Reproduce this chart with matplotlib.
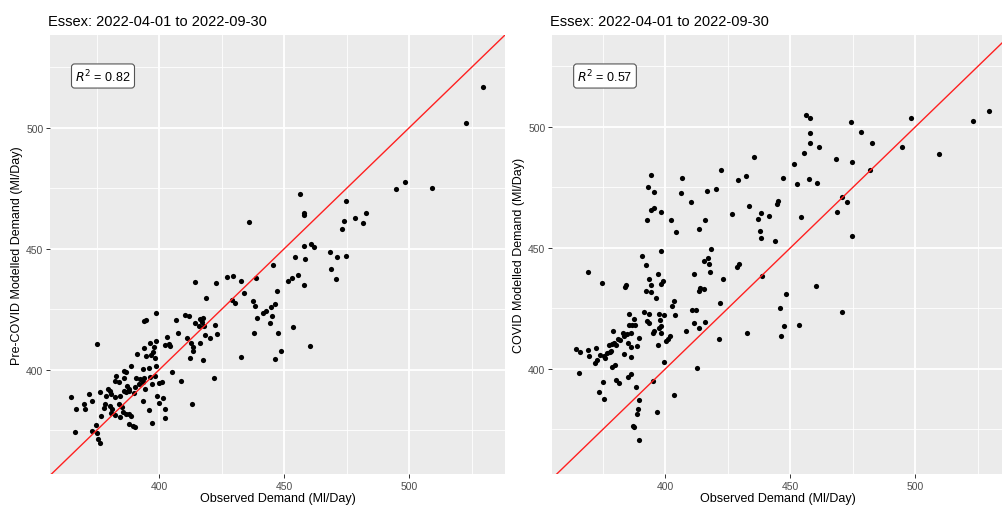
import matplotlib
matplotlib.use("Agg")
import matplotlib.pyplot as plt
from matplotlib.ticker import FixedLocator

plt.rcParams['font.family'] = ['Liberation Sans', 'DejaVu Sans']

title_text = "Essex: 2022-04-01 to 2022-09-30"
x_label = "Observed Demand (Ml/Day)"
y_label_pre = "Pre-COVID Modelled Demand (Ml/Day)"
y_label_covid = "COVID Modelled Demand (Ml/Day)"
r2_pre = "0.82"
r2_covid = "0.57"
major_ticks = [400, 450, 500]
minor_ticks = [375, 425, 475, 525]

# Pre-COVID model: observed vs modelled daily demand
obs_pre = [
    529.4, 522.7, 509.3, 498.3, 494.8, 456.3, 458.0, 457.8, 474.9, 474.1,
    478.2, 482.7, 481.7, 473.0, 458.1, 460.8, 461.9, 468.3,
    471.0, 474.6, 454.5, 458.3, 468.7, 470.6, 455.7, 453.0, 451.7, 457.8,
    447.2, 446.5, 453.6, 447.6, 448.7, 446.5, 460.3,
    436.0, 445.4, 438.8, 427.1, 429.4, 432.7, 422.6, 414.2, 434.0, 418.7,
    429.0, 430.3, 437.4, 438.5, 444.6, 441.4, 442.9, 445.1, 439.3, 444.4,
    398.9, 393.8, 394.8, 406.9, 410.4, 411.8, 414.2, 416.5, 417.6, 417.1,
    415.8, 417.9, 422.2,
    375.3, 396.2, 398.8, 402.4, 394.0, 398.0, 397.4, 394.7, 396.7, 398.4,
    391.3, 388.9, 385.8, 386.9, 393.5, 395.8, 398.8, 382.8, 382.3, 383.9,
    386.1, 390.9, 392.5, 394.0, 396.2, 398.3, 400.1, 401.1, 379.5, 380.2,
    387.2, 388.1, 390.5, 391.8, 393.5, 394.4, 397.1, 364.9, 372.0, 376.2,
    373.0, 378.6, 380.6, 382.3, 384.3, 386.0, 386.9, 388.1, 389.8, 393.4,
    399.1, 401.5, 400.0, 402.4, 370.0, 370.2, 366.9, 378.3, 377.9, 380.3,
    381.2, 383.9, 385.2, 385.6, 384.5, 386.9, 388.1, 388.9, 395.8, 402.4,
    376.9, 380.6, 382.3, 387.8, 389.6, 390.2, 397.1, 366.3, 374.6, 373.3,
    375.3, 375.7, 376.2,
    407.4, 403.3, 404.0, 404.4, 411.2, 412.7, 413.6, 413.6, 416.3, 418.3,
    420.5, 423.3, 438.1, 432.8, 412.3, 417.7, 405.0, 408.6, 421.8, 413.1,
]
pred_pre = [
    516.9, 502.0, 475.2, 477.6, 474.7, 472.7, 464.8, 463.9, 470.0, 461.4,
    462.7, 465.0, 460.9, 458.1, 451.1, 452.1, 450.8, 448.6,
    446.8, 447.1, 446.8, 445.9, 441.7, 437.6, 439.4, 438.0, 436.7, 435.1,
    432.8, 427.4, 417.9, 415.1, 408.0, 404.7, 409.8,
    461.0, 443.3, 438.1, 438.4, 439.0, 436.6, 436.1, 436.5, 431.7, 429.8,
    428.8, 427.7, 428.4, 426.4, 426.0, 423.7, 424.4, 422.2, 421.4, 419.4,
    423.6, 420.1, 420.5, 420.5, 422.9, 422.4, 419.3, 421.1, 421.6, 419.7,
    418.2, 418.3, 418.7,
    410.7, 411.2, 411.8, 410.5, 409.1, 409.4, 407.3, 405.9, 406.2, 405.0,
    406.5, 401.8, 399.7, 399.3, 400.4, 400.7, 401.8, 397.4, 395.6, 394.9,
    396.6, 396.6, 396.3, 396.6, 397.0, 397.7, 394.6, 395.2, 392.1, 391.2,
    393.3, 392.1, 392.8, 394.2, 394.9, 392.1, 394.2, 388.8, 390.2, 390.8,
    387.3, 389.4, 390.1, 388.7, 389.4, 391.5, 390.8, 391.2, 390.4, 387.3,
    389.4, 388.4, 386.4, 383.9, 386.0, 383.9, 383.9, 386.0, 384.3, 385.3,
    383.9, 386.0, 384.6, 382.8, 380.4, 381.8, 381.8, 381.1, 383.6, 380.0,
    380.9, 382.2, 381.4, 377.7, 377.0, 376.3, 378.1, 374.2, 377.3, 374.9,
    374.0, 371.5, 369.7,
    415.3, 413.5, 410.7, 409.8, 413.1, 411.0, 409.4, 408.0, 411.0, 414.6,
    413.2, 414.9, 415.3, 405.2, 404.8, 403.9, 399.3, 395.3, 396.6, 385.8,
]

# COVID model: observed vs modelled daily demand
obs_covid = [
    435.7, 422.4, 432.4, 429.1, 394.3, 406.9, 393.2, 395.7, 406.5, 416.9,
    420.1, 410.1, 433.7, 394.3, 395.3, 398.4, 392.8, 402.1, 404.5, 413.7,
    415.9, 426.8, 438.1, 437.2, 441.3, 437.9, 438.4, 444.0, 398.5, 390.7,
    392.4, 418.3, 415.7, 417.2, 417.3, 429.7, 428.8,
    529.6, 523.1, 498.3, 509.4, 494.9, 456.1, 457.9, 474.3, 478.3, 482.7,
    457.9, 457.9, 461.6, 455.5, 451.6, 468.1, 474.9, 482.0, 447.1, 452.9,
    457.5, 460.8, 470.9, 472.9, 468.6, 445.2, 444.9, 454.3, 474.6,
    369.2, 374.5, 384.0, 384.3, 393.3, 394.3, 397.1, 398.3, 399.1, 392.4,
    394.1, 396.3, 403.5, 402.8, 411.5, 417.9, 423.1, 413.3, 414.0, 415.7,
    438.8, 421.9, 410.9, 412.4, 391.6, 393.7, 397.3, 399.6, 403.9, 385.6,
    387.7, 385.7, 386.9, 388.0, 392.9, 393.3, 397.9, 398.1, 411.7, 413.5,
    415.9, 408.3, 379.2, 383.1, 383.7, 384.7, 386.3, 395.2, 395.6, 397.7,
    398.3, 389.7, 402.0, 401.1, 400.3, 381.1, 382.0, 379.7, 380.3, 378.7,
    385.1, 386.3, 388.9, 397.2, 421.3, 432.7, 364.4, 366.0, 369.2, 372.3,
    377.5, 378.0, 376.7, 378.4, 374.0, 375.6, 376.0, 369.3, 372.0, 372.8,
    383.3, 386.3, 380.0, 378.9, 399.3, 365.5, 385.1, 386.3, 380.4, 381.3,
    375.1, 412.7, 395.1, 388.3, 373.7, 375.6, 403.3, 389.6, 389.0, 388.7,
    396.8, 387.1, 387.6, 389.7,
    460.3, 448.5, 446.0, 470.6, 447.5, 453.4, 446.3,
]
pred_covid = [
    487.5, 482.4, 479.9, 478.0, 480.2, 478.9, 475.1, 473.0, 472.6, 473.4,
    474.5, 468.9, 467.2, 465.6, 466.4, 464.7, 461.4, 461.4, 456.7, 458.0,
    461.4, 464.2, 464.6, 461.8, 463.4, 457.2, 454.1, 453.0, 448.9, 446.8,
    443.1, 449.7, 444.8, 445.9, 443.4, 443.4, 442.0,
    506.6, 502.5, 503.6, 489.0, 491.6, 504.8, 503.7, 502.1, 497.8, 493.4,
    497.5, 493.5, 491.7, 489.1, 484.7, 486.6, 485.5, 482.2, 478.8, 476.3,
    478.4, 476.9, 471.2, 469.1, 464.9, 469.6, 468.2, 462.7, 455.0,
    440.2, 435.7, 434.0, 434.6, 437.3, 434.8, 439.1, 435.1, 436.5, 432.1,
    432.0, 429.5, 428.2, 425.9, 439.1, 440.1, 437.2, 432.4, 433.5, 432.9,
    438.3, 427.1, 424.5, 424.4, 423.7, 422.7, 422.7, 422.5, 422.2, 422.7,
    420.7, 418.3, 418.3, 418.3, 420.0, 419.0, 420.2, 417.9, 418.9, 416.8,
    419.3, 415.7, 415.7, 414.7, 413.8, 414.5, 414.7, 414.9, 415.6, 416.9,
    414.7, 412.8, 413.5, 412.3, 411.4, 412.5, 412.0, 410.9, 409.8, 410.3,
    410.9, 409.2, 409.6, 409.8, 412.5, 414.9, 408.3, 407.2, 408.0, 408.8,
    410.1, 406.9, 406.5, 407.3, 405.9, 405.5, 404.5, 405.2, 402.6, 403.7,
    406.1, 405.0, 401.7, 400.7, 403.0, 398.3, 396.6, 397.8, 395.5, 394.2,
    394.5, 400.4, 394.9, 392.7, 390.4, 387.6, 389.4, 387.2, 383.5, 381.4,
    382.4, 376.6, 376.2, 370.8,
    434.4, 431.1, 425.3, 423.6, 417.6, 418.0, 413.6,
]

W, H = 1003, 506
fig = plt.figure(figsize=(W / 100, H / 100), dpi=100)

panel_bg = "#EBEBEB"


def frac(x0, y0, x1, y1):
    return [x0 / W, 1 - y1 / H, (x1 - x0) / W, (y1 - y0) / H]


def draw_panel(rect, xs, ys, xlim, ylim, ylabel, r2, box_center):
    ax = fig.add_axes(rect)
    ax.set_facecolor(panel_bg)
    for s in ax.spines.values():
        s.set_visible(False)
    ax.set_xlim(*xlim)
    ax.set_ylim(*ylim)
    ax.xaxis.set_major_locator(FixedLocator(major_ticks))
    ax.yaxis.set_major_locator(FixedLocator(major_ticks))
    ax.xaxis.set_minor_locator(FixedLocator(minor_ticks))
    ax.yaxis.set_minor_locator(FixedLocator(minor_ticks))
    ax.grid(which="major", color="white", linewidth=1.3)
    ax.grid(which="minor", color="white", linewidth=0.6)
    ax.set_axisbelow(True)
    ax.tick_params(which="major", length=2.8, width=0.7, color="#333333",
                   labelsize=7.5, labelcolor="#4D4D4D", pad=2)
    ax.tick_params(which="minor", length=0)
    ax.scatter(xs, ys, s=14, color="black", linewidths=0, zorder=2)
    ax.axline((400, 400), slope=1, color="#FF2020", linewidth=1.0, zorder=3)
    ax.set_xlabel(x_label, fontsize=9, color="black", labelpad=1)
    ax.set_ylabel(ylabel, fontsize=9, color="black", labelpad=2)
    ax.set_title(title_text, fontsize=10.5, loc="left", pad=7, x=-0.005)
    bx, by = box_center
    ax.text(bx, by, r"$R^2$ = " + r2, transform=fig.transFigure,
            ha="center", va="center", fontsize=9,
            bbox=dict(boxstyle="round,pad=0.3,rounding_size=0.25",
                      facecolor="white", edgecolor="#555555", linewidth=0.8),
            zorder=5)
    return ax


draw_panel(frac(50, 36, 505, 475), obs_pre, pred_pre,
           (356.4, 538.4), (357.0, 538.4), y_label_pre, r2_pre,
           (103 / W, 1 - 77 / H))
draw_panel(frac(552, 36, 1003, 475), obs_covid, pred_covid,
           (354.7, 535.1), (356.6, 538.0), y_label_covid, r2_covid,
           (605 / W, 1 - 77 / H))

fig.savefig("out.png", dpi=100)
